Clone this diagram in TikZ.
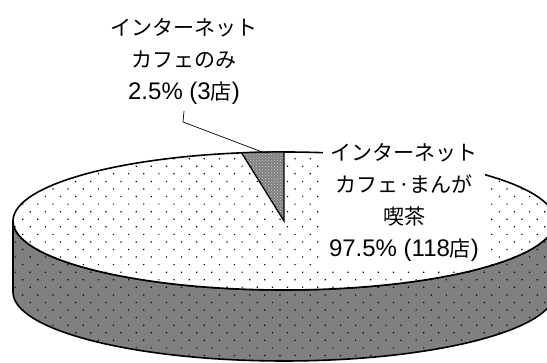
\documentclass[tikz,border=0pt]{standalone}
\usepackage{fontspec}
\setmainfont{Liberation Sans}
\newfontfamily\jp{Noto Sans CJK JP}[Scale=0.875]
\usetikzlibrary{patterns,patterns.meta}
\tikzset{
  lbl/.style={align=center,font=\fontsize{24}{32}\selectfont},
  pdots/.style={pattern={Dots[radius=0.85pt,distance=10.7pt,angle=45]}},
}

\begin{document}
\begin{tikzpicture}[x=1pt,y=1pt]
        \useasboundingbox (0,0) rectangle (547,363);
        \clip (0,0) rectangle (547,363);
        \coordinate (C) at (284,142);
        \path[draw,line width=1.6pt,preaction={fill=gray},pdots] (13,142) -- (13,71) arc[start angle=180,end angle=360,x radius=271,y radius=69] -- (555,142) arc[start angle=0,end angle=-180,x radius=271,y radius=69] -- cycle;
        \path[draw,line width=1.6pt,preaction={fill=white},pdots] (C) ellipse[x radius=271,y radius=69];
        \path[draw,line width=1.3pt,preaction={fill=black!50},pattern=crosshatch dots,pattern color=white!80!black] (C) -- ++(0,69) arc[start angle=90,end angle=99,x radius=271,y radius=69] -- cycle;
        \path (C) ++(94.5:271 and 69) coordinate (Tip);
        \coordinate (Kink) at (183,241);
        \node[lbl,inner ysep=7pt] (Seule) at (184,302) {{\jp インターネット}\\{\jp カフェのみ}\\2.5\% (3{\jp 店})};
        \node[lbl,fill=white,minimum width=162,minimum height=128,inner sep=0pt] (Mixte) at (404,160.5) {{\jp インターネット}\\{\jp カフェ·まんが}\\{\jp 喫茶}\\97.5\% (118{\jp 店})};
        \draw[line width=0.7pt] (Seule.south) -- (Kink) -- (Tip);
      \end{tikzpicture}
\end{document}
